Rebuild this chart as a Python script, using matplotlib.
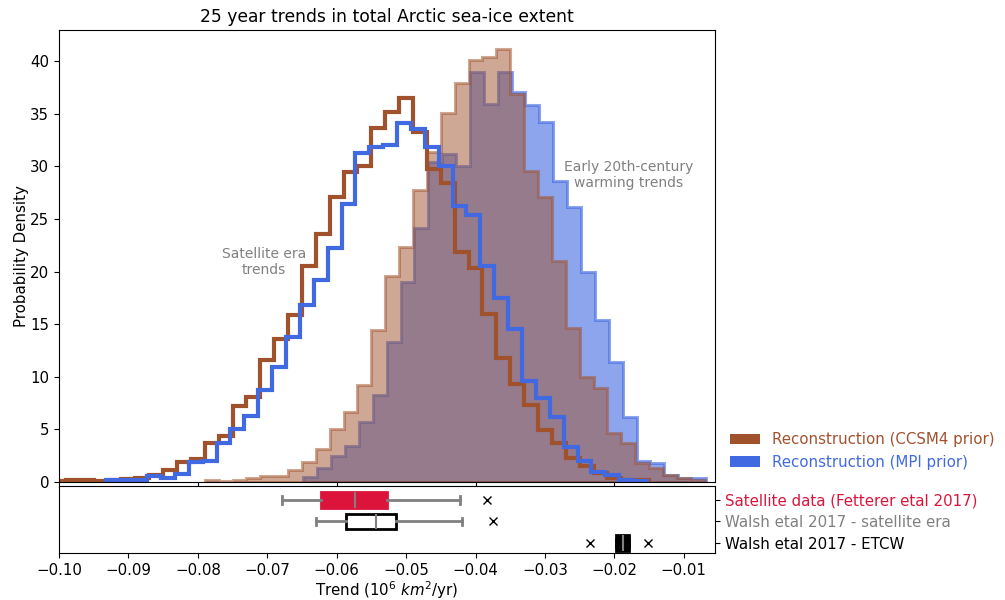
import numpy as np
import matplotlib
matplotlib.use('Agg')
import matplotlib.pyplot as plt
from matplotlib.patches import Patch

# ---------------- data ----------------
bin_width = 0.002

# Satellite-era trends, CCSM4 prior (outline)
sat_ccsm4_start = -0.101
sat_ccsm4 = [0.10, 0.15, 0.20, 0.10, 0.20, 0.25, 0.40, 0.65, 1.15, 1.88,
             2.17, 3.67, 4.40, 7.25, 8.10, 11.6, 13.6, 15.9, 20.55, 23.6,
             27.05, 29.5, 30.0, 33.65, 35.2, 36.5, 33.3, 29.75, 28.45, 21.85,
             20.35, 15.95, 11.75, 9.30, 7.30, 4.90, 3.67, 2.30, 1.55, 0.82,
             0.35, 0.20, 0.15]

# Satellite-era trends, MPI prior (outline)
sat_mpi_start = -0.0933
sat_mpi = [0.20, 0.20, 0.20, 0.60, 0.40, 0.75, 1.87, 2.00, 3.67, 5.00,
           6.25, 8.74, 10.95, 13.8, 16.8, 19.2, 22.2, 26.4, 31.3, 31.85,
           32.0, 34.1, 33.5, 31.85, 30.0, 26.2, 25.4, 20.55, 17.5, 14.55,
           9.55, 7.97, 6.20, 3.35, 1.98, 0.98, 0.66, 0.15, 0.12]

# Early 20th-century warming trends, CCSM4 prior (filled)
etcw_ccsm4_start = -0.079
etcw_ccsm4 = [0.15, 0.05, 0.15, 0.35, 0.55, 0.60, 1.10, 1.90, 3.10, 5.00,
              6.65, 9.20, 14.4, 19.6, 22.3, 27.7, 31.4, 35.05, 37.95, 40.1,
              40.4, 41.1, 36.9, 29.55, 27.1, 21.0, 14.65, 9.95, 8.90, 4.62,
              3.74, 1.84, 1.30, 0.67, 0.35, 0.20]

# Early 20th-century warming trends, MPI prior (filled)
etcw_mpi_start = -0.0648
etcw_mpi = [0.50, 1.30, 2.47, 3.45, 5.73, 8.27, 13.3, 19.0, 24.1, 30.4,
            31.2, 30.0, 39.0, 35.9, 39.0, 37.1, 35.8, 34.2, 28.6, 26.15,
            20.0, 15.4, 11.4, 6.20, 1.95, 1.85, 0.67, 0.40, 0.40]

# Observational estimates (box summaries)
box_labels = ['Satellite data (Fetterer etal 2017)',
              'Walsh etal 2017 - satellite era',
              'Walsh etal 2017 - ETCW']
box_label_colors = ['crimson', 'gray', 'black']
box_q1 = [-0.0623, -0.0587, -0.0198]
box_med = [-0.0573, -0.0544, -0.0187]
box_q3 = [-0.0527, -0.0515, -0.0179]
box_whislo = [-0.0679, -0.0630, -0.0198]
box_whishi = [-0.0423, -0.0420, -0.0179]
box_fliers = [[-0.0384], [-0.0375], [-0.0235, -0.0152]]

legend_labels = ['Reconstruction (CCSM4 prior)', 'Reconstruction (MPI prior)']

# ---------------- styling ----------------
BROWN = '#A0522D'
BLUE = '#4169E1'
FS = 10.8

plt.rcParams['font.family'] = ['DejaVu Sans']

fig = plt.figure(figsize=(10.05, 6.0), dpi=100)
ax = fig.add_axes([59 / 1005, 1 - 482 / 600, 656 / 1005, 452 / 600])
ax2 = fig.add_axes([59 / 1005, 1 - 553 / 600, 656 / 1005, 67 / 600])


def edges_for(start, heights):
    return start + bin_width * np.arange(len(heights) + 1)


e = edges_for(etcw_mpi_start, etcw_mpi)
ax.hist(e[:-1] + bin_width / 2, bins=e, weights=etcw_mpi, histtype='stepfilled',
        facecolor=BLUE, edgecolor=BLUE, alpha=0.6, linewidth=2.2)
e = edges_for(etcw_ccsm4_start, etcw_ccsm4)
ax.hist(e[:-1] + bin_width / 2, bins=e, weights=etcw_ccsm4, histtype='stepfilled',
        facecolor=BROWN, edgecolor=BROWN, alpha=0.5, linewidth=2.2)
e = edges_for(sat_ccsm4_start, sat_ccsm4)
ax.hist(e[:-1] + bin_width / 2, bins=e, weights=sat_ccsm4, histtype='step',
        color=BROWN, linewidth=3)
e = edges_for(sat_mpi_start, sat_mpi)
ax.hist(e[:-1] + bin_width / 2, bins=e, weights=sat_mpi, histtype='step',
        color=BLUE, linewidth=3)

ax.set_xlim(-0.1, -0.0055)
ax.set_ylim(0, 42.95)
ax.set_yticks(np.arange(0, 41, 5))
ax.tick_params(axis='both', labelsize=FS)
ax.tick_params(axis='x', labelbottom=False)
ax.set_ylabel('Probability Density', fontsize=FS, labelpad=1)
ax.set_title('25 year trends in total Arctic sea-ice extent', fontsize=12.3)

ax.text(-0.0705, 20.9, 'Satellite era\ntrends', color='gray', fontsize=10,
        ha='center', va='center', multialignment='center')
ax.text(-0.0179, 29.2, 'Early 20th-century\nwarming trends', color='gray', fontsize=10,
        ha='center', va='center', multialignment='center')

handles = [Patch(facecolor=BROWN, edgecolor='none'), Patch(facecolor=BLUE, edgecolor='none')]
fig.legend(handles, legend_labels, loc='upper left', bbox_to_anchor=(0.713, 0.302),
           frameon=False, fontsize=FS, labelcolor=[BROWN, BLUE])

# ---------------- box plots ----------------
positions = [3, 2, 1]
box_face = ['crimson', 'white', 'black']
box_edge = ['crimson', 'black', 'black']
cap_color = ['gray', 'gray', 'black']
for i in range(3):
    stats = [dict(med=box_med[i], q1=box_q1[i], q3=box_q3[i],
                  whislo=box_whislo[i], whishi=box_whishi[i],
                  fliers=box_fliers[i], label=box_labels[i])]
    ax2.bxp(stats, positions=[positions[i]], widths=0.7, orientation='horizontal',
            patch_artist=True,
            boxprops=dict(facecolor=box_face[i], edgecolor=box_edge[i], linewidth=2),
            medianprops=dict(color='gray', linewidth=1.5),
            whiskerprops=dict(color=cap_color[i], linewidth=2),
            capprops=dict(color=cap_color[i], linewidth=2),
            flierprops=dict(marker='x', markeredgecolor='black', markersize=5.5,
                            markeredgewidth=1.0))

ax2.set_xlim(-0.1, -0.0055)
ax2.set_ylim(0.535, 3.65)
ax2.yaxis.tick_right()
ax2.set_yticks(positions)
ax2.set_yticklabels(box_labels, fontsize=FS)
for lbl, c in zip(ax2.get_yticklabels(), box_label_colors):
    lbl.set_color(c)
ax2.set_xticks(np.arange(-0.10, -0.0099, 0.01))
ax2.set_xticklabels(['\u22120.10', '\u22120.09', '\u22120.08', '\u22120.07', '\u22120.06',
                     '\u22120.05', '\u22120.04', '\u22120.03', '\u22120.02', '\u22120.01'])
ax2.tick_params(axis='x', labelsize=FS)
ax2.set_xlabel(r'Trend ($10^6$ $km^2$/yr)', fontsize=FS, labelpad=1)

fig.savefig('out.png', dpi=100)
